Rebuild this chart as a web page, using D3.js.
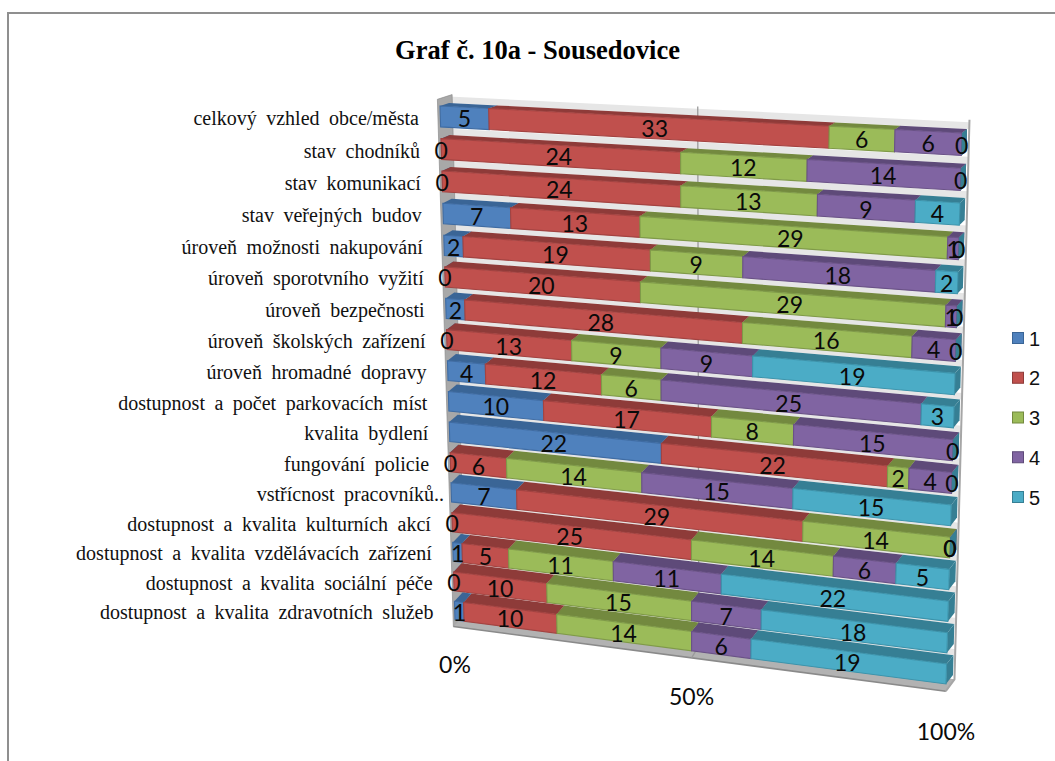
<!DOCTYPE html>
<html>
<head>
<meta charset="utf-8">
<script src="https://cdnjs.cloudflare.com/ajax/libs/d3/7.8.5/d3.min.js"></script>
<style>html,body{margin:0;padding:0;background:#fff}svg{display:block}</style>
</head>
<body>
<div id="chart"></div>
<script>
const titleText = "Graf č. 10a - Sousedovice";
const categories = [
  "celkový vzhled obce/města","stav chodníků","stav komunikací","stav veřejných budov",
  "úroveň možnosti nakupování","úroveň sporotvního vyžití","úroveň bezpečnosti",
  "úroveň školských zařízení","úroveň hromadné dopravy","dostupnost a počet parkovacích míst",
  "kvalita bydlení","fungování policie","vstřícnost pracovníků..",
  "dostupnost a kvalita kulturních akcí","dostupnost a kvalita vzdělávacích zařízení",
  "dostupnost a kvalita sociální péče","dostupnost a kvalita zdravotních služeb"
];
const seriesNames = ["1","2","3","4","5"];
const series1 = [5,0,0,7,2,0,2,0,4,10,22,0,7,0,1,0,1];
const series2 = [33,24,24,13,19,20,28,13,12,17,22,6,29,25,5,10,10];
const series3 = [6,12,13,29,9,29,16,9,6,8,2,14,14,14,11,15,14];
const series4 = [6,14,9,1,18,1,4,9,25,15,4,15,0,6,11,7,6];
const series5 = [0,0,4,0,2,0,0,19,3,0,0,15,0,5,22,18,19];
const axisTicks = [0,0.5,1];
const frontColors = ["#4F81BD","#C0504D","#9BBB59","#8064A2","#4BACC6"];
const sideColors  = ["#3A6596","#8E3B39","#73893F","#5E4A79","#367F94"];
const edgeColors  = ["#3F6CA3","#A34341","#7F9A48","#6A5287","#3C93AB"];

const W = 1055, H = 761;
const svg = d3.select("#chart").append("svg").attr("width",W).attr("height",H);

// homography from the unit square to a screen quadrilateral
function homography(tl,tr,br,bl){
  const [x0,y0]=tl,[x1,y1]=tr,[x2,y2]=br,[x3,y3]=bl;
  const dx1=x1-x2,dx2=x3-x2,dy1=y1-y2,dy2=y3-y2;
  const sx=x0-x1+x2-x3,sy=y0-y1+y2-y3;
  const den=dx1*dy2-dx2*dy1;
  const g=(sx*dy2-dx2*sy)/den,h=(dx1*sy-sx*dy1)/den;
  const a=x1-x0+g*x1,b=x3-x0+h*x3,d=y1-y0+g*y1,e=y3-y0+h*y3;
  return (u,v)=>{const w=g*u+h*v+1;return [(a*u+b*v+x0)/w,(d*u+e*v+y0)/w];};
}
const front = homography([440,106],[962,133],[946,684],[455,620]);
const back  = homography([449,103],[967,129],[953,675],[463,611]);
function P(u,v,d){
  const f=front(u,v),b=back(u,v);
  return [f[0]+(b[0]-f[0])*d,f[1]+(b[1]-f[1])*d];
}
const poly = pts => d3.line()(pts)+"Z";

const xScale = d3.scaleLinear().domain([0,1]).range([0,1]);
const yScale = d3.scaleBand().domain(d3.range(categories.length)).range([0,1]).paddingInner(0.36).paddingOuter(0);

const table = categories.map((c,i)=>({i,"1":series1[i],"2":series2[i],"3":series3[i],"4":series4[i],"5":series5[i]}));
const stacked = d3.stack().keys(seriesNames).offset(d3.stackOffsetExpand)(table);

// frame
svg.append("path").attr("d","M8,761V13H1055").attr("fill","none").attr("stroke","#8f8f8f").attr("stroke-width",2);

// title
svg.append("text").attr("x",537.5).attr("y",59).attr("text-anchor","middle")
  .attr("font-family","'Liberation Serif'").attr("font-weight","bold").attr("font-size",26.5).text(titleText);

// walls
const walls = svg.append("g");
const stripH = 0.012;
walls.selectAll("path.strip").data(categories).join("path").attr("class","strip")
  .attr("fill","#e6e6e6")
  .attr("d",(c,i)=>{const t=yScale(i);return poly([P(0,t-stripH,1),P(1.004,t-stripH,1),P(1.004,t,1),P(0,t,1)]);});
walls.append("path").attr("fill","#a8a8a8").attr("stroke","#8c8c8c").attr("stroke-width",0.7)
  .attr("d",poly([P(-.005,-.012,0),P(.007,-.016,1),P(.004,1.01,1),P(-.004,1.014,0)]));
walls.append("path").attr("fill","#b2b2b2")
  .attr("d",poly([P(-.004,1.014,0),P(1,1.014,0),P(1.003,1.008,1),P(.004,1.008,1)]));
walls.append("path").attr("fill","none").attr("stroke","#8a8a8a").attr("stroke-width",1.6)
  .attr("d",d3.line()([P(-.004,1.014,0),P(1,1.014,0)]));
walls.append("path").attr("fill","none").attr("stroke","#a6a6a6").attr("stroke-width",2)
  .attr("d",d3.line()([P(1,1.014,0),P(1.003,1.008,1),P(1.004,-.016,1)]));
walls.selectAll("path.grid").data([0.5]).join("path").attr("class","grid")
  .attr("fill","none").attr("stroke","#9a9a9a").attr("stroke-width",1.3)
  .attr("d",u=>d3.line()([P(xScale(u),-.016,1),P(xScale(u),1.008,1),P(xScale(u),1.014,0)]));

// bars
const bars = svg.append("g");
categories.forEach((c,i)=>{
  const t0=yScale(i),t1=t0+yScale.bandwidth();
  stacked.forEach((s,k)=>{
    const u0=xScale(s[i][0]),u1=xScale(s[i][1]);
    const g=bars.append("g");
    g.append("path").attr("fill",sideColors[k]).attr("d",poly([P(u0,t0,0),P(u1,t0,0),P(u1,t0,1),P(u0,t0,1)]));
    g.append("path").attr("fill",sideColors[k]).attr("d",poly([P(u1,t0,0),P(u1,t0,1),P(u1,t1,1),P(u1,t1,0)]));
    if(u1>u0) g.append("path").attr("fill",frontColors[k]).attr("stroke",edgeColors[k]).attr("stroke-width",1.1)
      .attr("d",poly([P(u0,t0,0),P(u1,t0,0),P(u1,t1,0),P(u0,t1,0)]));
  });
});

// data labels
const labelFont = "Lato, 'Open Sans', sans-serif";
const labels = svg.append("g").attr("font-family",labelFont).attr("font-size",23).attr("text-anchor","middle").attr("fill","#0a0a0a");
categories.forEach((c,i)=>{
  const tm=yScale(i)+yScale.bandwidth()/2;
  stacked.forEach(s=>{
    const um=xScale((s[i][0]+s[i][1])/2);
    const p=P(um,tm,0);
    labels.append("text").attr("x",p[0]).attr("y",p[1]+9.5).text(s[i].data[s.key]);
  });
});

// category labels
svg.append("g").attr("font-family","'Liberation Serif'").attr("font-size",20).attr("text-anchor","end").attr("fill","#111")
  .attr("word-spacing",4.5)
  .selectAll("text").data(categories).join("text")
  .attr("x",(c,i)=>P(0,yScale(i),0)[0]-21+(c.endsWith("..")?14:0))
  .attr("y",(c,i)=>P(0,yScale(i)+yScale.bandwidth()/2,0)[1]+8.5)
  .text(c=>c);

// value axis labels
svg.append("g").attr("font-family",labelFont).attr("font-size",23).attr("text-anchor","middle").attr("fill","#0a0a0a")
  .selectAll("text").data(axisTicks).join("text")
  .attr("x",u=>P(xScale(u),1,0)[0])
  .attr("y",u=>P(xScale(u),1,0)[1]+53+3*u)
  .text(d3.format(".0%"));

// legend
const legendY = d3.scalePoint().domain(seriesNames).range([338,497]);
const leg = svg.append("g").selectAll("g").data(seriesNames).join("g").attr("transform",d=>`translate(1012,${legendY(d)})`);
leg.append("rect").attr("x",0.5).attr("y",-5.5).attr("width",11).attr("height",11)
  .attr("fill",(d,k)=>frontColors[k]).attr("stroke",(d,k)=>sideColors[k]).attr("stroke-width",1);
leg.append("text").attr("x",17).attr("y",7.5).attr("font-family","'Liberation Sans'").attr("font-size",20).attr("fill","#111").text(d=>d);
</script>
</body>
</html>
